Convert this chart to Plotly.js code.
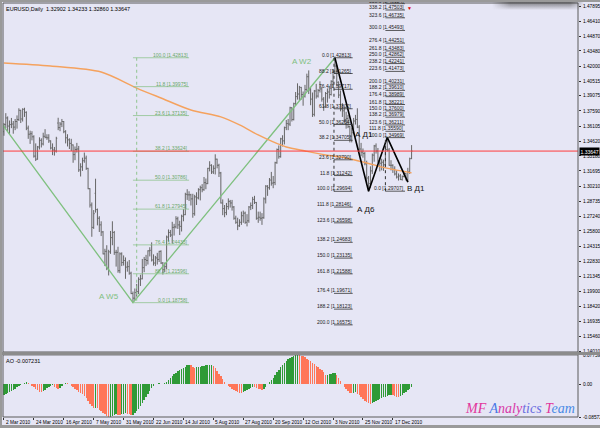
<!DOCTYPE html>
<html><head><meta charset="utf-8">
<script src="https://cdn.plot.ly/plotly-3.0.1.min.js"></script>
<style>
html,body{margin:0;padding:0;background:#e6e6f5;}
#wrap{position:relative;width:600px;height:428px;overflow:hidden;}
#chart{width:600px;height:428px;}
#frame{position:absolute;left:0;top:0;width:600px;height:428px;box-sizing:border-box;border-left:2px solid #9a9a9a;border-top:2px solid #9a9a9a;border-bottom:3px solid #9a9a9a;pointer-events:none;}
#shade{position:absolute;left:492px;top:0;width:92px;height:10px;pointer-events:none;
 background:linear-gradient(to bottom, rgba(70,70,70,0.85), rgba(70,70,70,0.0));
 -webkit-mask-image:linear-gradient(to right, transparent, #000 20%, #000 85%, transparent);
 mask-image:linear-gradient(to right, transparent, #000 20%, #000 85%, transparent);}
</style></head><body>
<div id="wrap"><div id="chart"></div><div id="shade"></div><div id="frame"></div></div>
<script>
// ---------- DATA ----------
const chartTitle = 'EURUSD,Daily  1.32902 1.34233 1.32860 1.33647';
const aoTitle = 'AO -0.007231';
const dateLabels = ['2 Mar 2010','24 Mar 2010','16 Apr 2010','7 May 2010','31 May 2010','22 Jun 2010','14 Jul 2010','5 Aug 2010','27 Aug 2010','20 Sep 2010','12 Oct 2010','3 Nov 2010','25 Nov 2010','17 Dec 2010'];
const barsPerLabel = 16;

const open = [
1.3555,1.3625,1.3690,1.3610,1.3625,1.3630,1.3600,1.3655,1.3675,1.3765,
1.3680,1.3775,1.3745,1.3590,1.3530,1.3535,1.3505,1.3315,1.3285,1.3405,
1.3470,1.3435,1.3510,1.3500,1.3495,1.3465,1.3395,1.3375,1.3365,1.3640,
1.3595,1.3630,1.3655,1.3555,1.3495,1.3475,1.3440,1.3425,1.3330,1.3380,
1.3385,1.3180,1.3210,1.3270,1.3295,1.3195,1.2995,1.2835,1.2615,1.2950,
1.2790,1.2705,1.2640,1.2570,1.2355,1.2380,1.2210,1.2375,1.2515,1.2565,
1.2370,1.2370,1.2190,1.2355,1.2270,1.2290,1.2225,1.2230,1.2165,1.1965,
1.1920,1.1975,1.1985,1.2105,1.2110,1.2220,1.2300,1.2290,1.2385,1.2440,
1.2295,1.2265,1.2315,1.2300,1.2380,1.2265,1.2200,1.2230,1.2520,1.2565,
1.2540,1.2615,1.2620,1.2700,1.2640,1.2625,1.2725,1.2740,1.2940,1.2935,
1.2935,1.2895,1.2750,1.2915,1.2905,1.2985,1.3005,1.2985,1.3055,1.3045,
1.3195,1.3225,1.3160,1.3195,1.3285,1.3225,1.3150,1.2855,1.2800,1.2760,
1.2820,1.2870,1.2855,1.2815,1.2705,1.2665,1.2630,1.2665,1.2730,1.2755,
1.2665,1.2680,1.2815,1.2830,1.2890,1.2860,1.2705,1.2715,1.2705,1.2710,
1.2895,1.3020,1.3005,1.3080,1.3050,1.3055,1.3250,1.3380,1.3310,1.3485,
1.3465,1.3595,1.3635,1.3630,1.3790,1.3675,1.3830,1.3900,1.3925,1.3990,
1.3920,1.3905,1.3970,1.4095,1.3965,1.3875,1.3725,1.3955,1.3905,1.3960,
1.3975,1.3875,1.3800,1.3930,1.3945,1.3920,1.4050,1.4145,1.4200,1.4040,
1.3915,1.3780,1.3760,1.3675,1.3685,1.3605,1.3510,1.3545,1.3660,1.3675,
1.3600,1.3385,1.3355,1.3340,1.3240,1.3100,1.3045,1.3170,1.3325,1.3415,
1.3365,1.3270,1.3245,1.3255,1.3230,1.3380,1.3375,1.3225,1.3225,1.3185,
1.3140,1.3110,1.3120,1.3085,1.3115,1.3145,1.3080,1.3160,1.32902];
const high = [
1.3640,1.3737,1.3705,1.3665,1.3690,1.3660,1.3680,1.3715,1.3785,1.3770,
1.3785,1.3790,1.3755,1.3615,1.3565,1.3560,1.3520,1.3440,1.3415,1.3500,
1.3490,1.3545,1.3580,1.3530,1.3530,1.3470,1.3440,1.3405,1.3505,1.3692,
1.3650,1.3680,1.3660,1.3570,1.3530,1.3490,1.3485,1.3430,1.3410,1.3445,
1.3415,1.3245,1.3300,1.3350,1.3320,1.3200,1.3000,1.2860,1.2785,1.3093,
1.2800,1.2725,1.2675,1.2580,1.2405,1.2440,1.2395,1.2580,1.2675,1.2580,
1.2395,1.2425,1.2370,1.2370,1.2340,1.2320,1.2280,1.2295,1.2180,1.1985,
1.2015,1.2060,1.2125,1.2150,1.2305,1.2325,1.2345,1.2390,1.2420,1.2468,
1.2350,1.2335,1.2365,1.2385,1.2390,1.2275,1.2270,1.2535,1.2595,1.2590,
1.2670,1.2650,1.2725,1.2720,1.2680,1.2740,1.2795,1.2955,1.2990,1.2970,
1.2945,1.2945,1.2935,1.2960,1.3000,1.3025,1.3040,1.3110,1.3095,1.3200,
1.3265,1.3235,1.3225,1.3333,1.3290,1.3240,1.3160,1.2890,1.2835,1.2855,
1.2900,1.2885,1.2885,1.2825,1.2730,1.2710,1.2695,1.2770,1.2780,1.2770,
1.2745,1.2825,1.2860,1.2915,1.2925,1.2865,1.2770,1.2770,1.2755,1.2910,
1.3030,1.3030,1.3100,1.3160,1.3120,1.3260,1.3390,1.3420,1.3495,1.3520,
1.3605,1.3670,1.3680,1.3800,1.3795,1.3840,1.3945,1.4030,1.4005,1.3995,
1.3950,1.4015,1.4125,1.4157,1.3990,1.3940,1.3965,1.4025,1.3975,1.4050,
1.3995,1.3895,1.3945,1.3980,1.4005,1.4060,1.4170,1.4282,1.4210,1.4050,
1.3960,1.3835,1.3800,1.3750,1.3720,1.3615,1.3595,1.3690,1.3720,1.3785,
1.3620,1.3445,1.3390,1.3355,1.3270,1.3120,1.3215,1.3340,1.3425,1.3440,
1.3395,1.3300,1.3290,1.3280,1.3420,1.3500,1.3395,1.3275,1.3235,1.3215,
1.3175,1.3145,1.3140,1.3125,1.3165,1.3150,1.3200,1.3300,1.34233];
const low = [
1.3515,1.3590,1.3560,1.3530,1.3590,1.3535,1.3570,1.3585,1.3660,1.3640,
1.3655,1.3700,1.3570,1.3485,1.3435,1.3470,1.3300,1.3267,1.3280,1.3380,
1.3400,1.3420,1.3490,1.3475,1.3445,1.3380,1.3325,1.3320,1.3350,1.3570,
1.3560,1.3600,1.3540,1.3440,1.3410,1.3385,1.3365,1.3250,1.3275,1.3350,
1.3160,1.3115,1.3170,1.3250,1.3180,1.2990,1.2810,1.2523,1.2600,1.2760,
1.2635,1.2570,1.2530,1.2350,1.2235,1.2195,1.2143,1.2355,1.2440,1.2345,
1.2230,1.2170,1.2165,1.2235,1.2240,1.2110,1.2180,1.2150,1.1960,1.1876,
1.1900,1.1935,1.1960,1.2040,1.2105,1.2175,1.2235,1.2250,1.2330,1.2280,
1.2240,1.2235,1.2250,1.2275,1.2255,1.2152,1.2175,1.2205,1.2475,1.2520,
1.2460,1.2535,1.2605,1.2600,1.2540,1.2575,1.2675,1.2735,1.2885,1.2875,
1.2830,1.2710,1.2730,1.2835,1.2890,1.2880,1.2960,1.2975,1.2990,1.3040,
1.3165,1.3140,1.3140,1.3135,1.3195,1.3110,1.2850,1.2735,1.2715,1.2735,
1.2790,1.2810,1.2780,1.2690,1.2650,1.2588,1.2620,1.2640,1.2660,1.2650,
1.2625,1.2660,1.2785,1.2795,1.2845,1.2690,1.2660,1.2680,1.2640,1.2700,
1.2850,1.2925,1.2985,1.3025,1.3000,1.3030,1.3240,1.3290,1.3300,1.3410,
1.3430,1.3570,1.3570,1.3610,1.3655,1.3665,1.3810,1.3870,1.3860,1.3870,
1.3810,1.3890,1.3955,1.3925,1.3815,1.3700,1.3705,1.3880,1.3890,1.3940,
1.3850,1.3760,1.3790,1.3840,1.3880,1.3910,1.3990,1.4120,1.4000,1.3885,
1.3755,1.3700,1.3640,1.3585,1.3590,1.3450,1.3450,1.3530,1.3625,1.3590,
1.3355,1.3315,1.3300,1.3225,1.3050,1.2969,1.3005,1.3140,1.3260,1.3340,
1.3250,1.3165,1.3175,1.3170,1.3215,1.3360,1.3220,1.3175,1.3150,1.3125,
1.3095,1.3075,1.3080,1.3075,1.3105,1.3075,1.3060,1.3140,1.32860];
const close = [
1.3625,1.3690,1.3610,1.3625,1.3630,1.3600,1.3655,1.3675,1.3765,1.3680,
1.3775,1.3745,1.3590,1.3530,1.3535,1.3505,1.3315,1.3285,1.3405,1.3470,
1.3435,1.3510,1.3500,1.3495,1.3465,1.3395,1.3375,1.3365,1.3490,1.3595,
1.3630,1.3655,1.3555,1.3495,1.3475,1.3440,1.3425,1.3330,1.3380,1.3385,
1.3180,1.3210,1.3270,1.3295,1.3195,1.2995,1.2835,1.2615,1.2750,1.2790,
1.2705,1.2640,1.2570,1.2355,1.2380,1.2210,1.2375,1.2515,1.2565,1.2370,
1.2370,1.2190,1.2355,1.2270,1.2290,1.2225,1.2230,1.2165,1.1965,1.1920,
1.1975,1.1985,1.2105,1.2110,1.2220,1.2300,1.2290,1.2385,1.2390,1.2295,
1.2265,1.2315,1.2300,1.2380,1.2265,1.2200,1.2230,1.2520,1.2565,1.2540,
1.2615,1.2620,1.2700,1.2640,1.2625,1.2725,1.2740,1.2940,1.2935,1.2935,
1.2895,1.2750,1.2915,1.2905,1.2985,1.3005,1.2985,1.3055,1.3045,1.3195,
1.3225,1.3160,1.3195,1.3285,1.3225,1.3150,1.2855,1.2800,1.2760,1.2820,
1.2870,1.2855,1.2815,1.2705,1.2665,1.2630,1.2665,1.2730,1.2755,1.2665,
1.2680,1.2815,1.2830,1.2890,1.2860,1.2705,1.2715,1.2705,1.2710,1.2895,
1.3020,1.3005,1.3080,1.3050,1.3055,1.3250,1.3380,1.3310,1.3485,1.3465,
1.3595,1.3635,1.3630,1.3790,1.3675,1.3830,1.3900,1.3925,1.3990,1.3920,
1.3905,1.3970,1.4095,1.3965,1.3875,1.3725,1.3955,1.3905,1.3960,1.3975,
1.3875,1.3800,1.3930,1.3945,1.3920,1.4050,1.4145,1.4200,1.4040,1.3915,
1.3780,1.3760,1.3675,1.3685,1.3605,1.3510,1.3545,1.3660,1.3675,1.3600,
1.3385,1.3355,1.3340,1.3240,1.3100,1.3045,1.3170,1.3325,1.3415,1.3365,
1.3270,1.3245,1.3255,1.3230,1.3380,1.3375,1.3225,1.3225,1.3185,1.3140,
1.3110,1.3120,1.3085,1.3115,1.3145,1.3080,1.3160,1.3290,1.33647];

// Awesome Oscillator histogram
const aoValues = [
-0.027,-0.025,-0.022,-0.020,-0.017,-0.014,-0.011,-0.008,-0.005,-0.002,
0.002,0.005,0.006,0.004,0.001,-0.003,-0.007,-0.011,-0.015,-0.019,
-0.021,-0.018,-0.014,-0.010,-0.007,-0.004,-0.002,-0.006,-0.010,-0.013,
-0.009,-0.004,0.001,0.004,0.003,0.000,-0.004,-0.008,-0.012,-0.016,
-0.020,-0.023,-0.026,-0.031,-0.037,-0.044,-0.052,-0.058,-0.063,-0.061,
-0.062,-0.066,-0.070,-0.075,-0.079,-0.083,-0.0857,-0.085,-0.082,-0.080,
-0.079,-0.080,-0.081,-0.079,-0.077,-0.076,-0.077,-0.079,-0.081,-0.080,
-0.076,-0.071,-0.065,-0.058,-0.050,-0.042,-0.034,-0.026,-0.018,-0.010,
-0.004,0.000,0.002,0.003,0.002,0.001,0.003,0.007,0.012,0.017,
0.022,0.027,0.031,0.035,0.038,0.041,0.044,0.047,0.050,0.052,
0.050,0.047,0.044,0.045,0.046,0.047,0.048,0.049,0.050,0.0505,
0.051,0.052,0.048,0.042,0.035,0.028,0.021,0.014,0.007,0.001,
-0.004,-0.008,-0.012,-0.015,-0.018,-0.020,-0.022,-0.023,-0.021,-0.018,
-0.015,-0.012,-0.009,-0.007,-0.008,-0.010,-0.012,-0.013,-0.014,-0.011,
-0.006,0.000,0.006,0.012,0.018,0.025,0.032,0.039,0.045,0.051,
0.057,0.062,0.066,0.070,0.073,0.075,0.077,0.0776,0.0770,0.0755,
0.0735,0.071,0.068,0.065,0.061,0.057,0.053,0.049,0.045,0.041,
0.037,0.033,0.025,0.026,0.027,0.028,0.029,0.030,0.024,0.016,
0.008,0.000,-0.007,-0.013,-0.018,-0.022,-0.023,-0.022,-0.021,-0.024,
-0.029,-0.034,-0.039,-0.043,-0.047,-0.050,-0.051,-0.049,-0.046,-0.043,
-0.040,-0.038,-0.036,-0.034,-0.032,-0.030,-0.028,-0.027,-0.029,-0.031,
-0.033,-0.034,-0.031,-0.027,-0.023,-0.019,-0.015,-0.011,-0.00723];

// Moving average line (bar index, price)
const maBars = [0,25,52,71,84,100,116,126,136,144,151,161,172,183,194,204,218];
const maPrices = [1.4230,1.4200,1.4141,1.3984,1.3886,1.3768,1.3700,1.3621,1.3523,1.3454,1.3405,1.3366,1.3326,1.3297,1.3248,1.3199,1.3150];

// Wave line (green) and zigzag (black)
const waveBars = [-1,69,177];
const wavePrices = [1.3630,1.18758,1.42813];
const zigBars = [177,195,205,216];
const zigPrices = [1.42813,1.29694,1.34985,1.30600];

const lastPrice = 1.33647;

// Fibonacci 1 (green)
const fib1Bars = [69,99,71]; // line start, line end, dotted anchor
const fib1Levels = ['100.0','11.8','23.6','38.2','50.0','61.8','76.4','88.2','0.0'];
const fib1Prices = [1.42813,1.39975,1.37135,1.33624,1.30786,1.27945,1.24433,1.21596,1.18758];
// Fibonacci 2 (black)
const fib2Bars = [176.5,186.5,176.5];
const fib2Levels = ['0.0','88.2','76.4','61.8','50.0','38.2','23.6','11.8','100.0','111.8','123.6','138.2','150.0','161.8','176.4','188.2','200.0'];
const fib2Prices = [1.42813,1.41265,1.39717,1.37802,1.36254,1.34705,1.32790,1.31242,1.29694,1.28146,1.26598,1.24683,1.23135,1.21588,1.19671,1.18123,1.16575];
// Fibonacci 3 (black, expansion)
const fib3Bars = [204,214.5,204];
const fib3Levels = ['0.0','100.0','111.8','123.6','138.2','150.0','161.8','176.4','188.2','200.0','223.6','238.2','250.0','261.8','276.4','300.0','323.6','338.2','350.0'];
const fib3Prices = [1.29707,1.34969,1.35590,1.36211,1.36979,1.37600,1.38221,1.38989,1.39610,1.40231,1.41473,1.42241,1.42862,1.43483,1.44251,1.45493,1.46735,1.47503,1.48124];

// Wave labels
const waveLabels = ['A W5','A W2','А Д1','А Д6','В Д1'];
const waveLabelBars = [56,159.5,192.8,193.5,220.5];
const waveLabelPrices = [1.1932,1.4249,1.3523,1.2786,1.3002];

const priceTicks = [1.47895,1.46410,1.44870,1.43480,1.42000,1.40515,1.39075,1.37590,1.36105,1.34620,1.33180,1.31695,1.30210,1.28735,1.27240,1.25800,1.24315,1.22830,1.21345,1.19900,1.18420,1.16935,1.15460,1.14010];
const aoTicks = [0.077595,0,-0.08572];
const aoTickText = ['0.077595','0.00','-0.08572'];

// ---------- BUILD ----------
const bars = close.map((_, i) => i);
const bg = '#e6e6f5';
const greenW = '#7fc07f';
const FONT = 'Liberation Sans, Arial, sans-serif';
const aoColors = aoValues.map((v, i) => (i === 0 || v > aoValues[i-1]) ? '#2f9a36' : '#ff7658');
const dateTickBars = dateLabels.map((_, i) => i * barsPerLabel);

const traces = [
  {type:'scatter', mode:'lines', x:waveBars, y:wavePrices, line:{color:greenW, width:1.3}, hoverinfo:'skip', xaxis:'x', yaxis:'y'},
  {type:'ohlc', x:bars, open:open, high:high, low:low, close:close, xaxis:'x', yaxis:'y',
   increasing:{line:{color:'#666', width:1}}, decreasing:{line:{color:'#666', width:1}}, tickwidth:0.5, hoverinfo:'skip'},
  {type:'scatter', mode:'lines', x:maBars, y:maPrices, line:{color:'#f5a25e', width:1.4, shape:'spline', smoothing:0.8}, hoverinfo:'skip', xaxis:'x', yaxis:'y'},
  {type:'scatter', mode:'lines', x:zigBars, y:zigPrices, line:{color:'#000', width:1.6}, hoverinfo:'skip', xaxis:'x', yaxis:'y'},
  {type:'bar', x:bars, y:aoValues, marker:{color:aoColors, line:{width:0}}, width:0.75, xaxis:'x', yaxis:'y2', hoverinfo:'skip'}
];

const shapes = [];
const annotations = [];
function addFib(fb, levels, prices, lineColor, textColor, anchorTo) {
  levels.forEach((lv, i) => {
    shapes.push({type:'line', xref:'x', yref:'y', x0:fb[0], x1:fb[1], y0:prices[i], y1:prices[i], line:{color:lineColor, width:0.8}});
    annotations.push({xref:'x', yref:'y', x:fb[1], y:prices[i], xanchor:'right', yanchor:'bottom', text:lv + ' [' + prices[i].toFixed(5) + ']',
      showarrow:false, font:{size:5, color:textColor, family:FONT}, borderpad:0, yshift:-1});
  });
  shapes.push({type:'line', xref:'x', yref:'y', x0:fb[2], x1:fb[2], y0:prices[0], y1:prices[anchorTo], line:{color:lineColor, width:1, dash:'dot'}});
}
addFib(fib1Bars, fib1Levels, fib1Prices, '#8fc48f', '#6aa86a', fib1Prices.length - 1);
addFib(fib2Bars, fib2Levels, fib2Prices, '#333', '#222', 8);
addFib(fib3Bars, fib3Levels, fib3Prices, '#333', '#222', 1);

// current price line
shapes.push({type:'line', xref:'paper', yref:'y', x0:0, x1:1, y0:lastPrice, y1:lastPrice, line:{color:'#ff3b3b', width:1}});
// panel frames
shapes.push({type:'rect', xref:'paper', yref:'paper', x0:0, x1:1, y0:0.157, y1:1, line:{color:'#5a5a5a', width:1}});
shapes.push({type:'rect', xref:'paper', yref:'paper', x0:0, x1:1, y0:0, y1:0.150, line:{color:'#5a5a5a', width:1}});
shapes.push({type:'rect', xref:'paper', yref:'paper', x0:-0.01, x1:1.04, y0:0.150, y1:0.157, fillcolor:'#8c8c8c', line:{width:0}});

// date labels, to the right of each tick mark
dateLabels.forEach((d, i) => {
  annotations.push({xref:'x', yref:'paper', x:dateTickBars[i], y:0, xanchor:'left', yanchor:'top', xshift:1, yshift:-1.5,
    text:d, showarrow:false, borderpad:0, font:{size:4.8, color:'#000', family:FONT}});
});

waveLabels.forEach((t, i) => {
  annotations.push({xref:'x', yref:'y', x:waveLabelBars[i], y:waveLabelPrices[i], text:t, showarrow:false,
    font:{size:8, color: i < 2 ? greenW : '#111', family:FONT}});
});
annotations.push({xref:'paper', yref:'paper', x:0.002, y:1, xanchor:'left', yanchor:'top', yshift:-1, text:chartTitle, showarrow:false,
  font:{size:5.5, color:'#000', family:FONT}});
annotations.push({xref:'paper', yref:'paper', x:0.002, y:0.150, xanchor:'left', yanchor:'top', yshift:-1, text:aoTitle, showarrow:false,
  font:{size:5.5, color:'#000', family:FONT}});
annotations.push({xref:'paper', yref:'y', x:1, y:lastPrice, xanchor:'left', yanchor:'middle', xshift:1, text:lastPrice.toFixed(5), showarrow:false,
  bgcolor:'#000', borderpad:0.5, font:{size:5, color:'#fff', family:FONT}});
annotations.push({xref:'x', yref:'paper', x:217, y:1, yanchor:'top', text:'▼', showarrow:false, font:{size:5, color:'#e00000'}});
annotations.push({xref:'paper', yref:'paper', x:0.998, y:0.02, xanchor:'right', yanchor:'middle', showarrow:false,
  text:'<i><span style="color:#e2359c">MF </span><span style="color:#4a78e6">A</span><span style="color:#d83aa8">naly</span><span style="color:#6a6ee0">tics </span><span style="color:#e2359c">T</span><span style="color:#4a8ae6">eam</span></i>',
  font:{size:14, family:'Liberation Serif, Times New Roman, serif'}});

const layout = {
  width:600, height:428,
  margin:{l:3, r:22, t:3, b:11, pad:0},
  paper_bgcolor:bg, plot_bgcolor:bg, showlegend:false, bargap:0,
  font:{family:FONT, size:5, color:'#000'},
  xaxis:{range:[-0.5, 307], anchor:'y2', showgrid:false, zeroline:false,
    tickvals:dateTickBars, ticktext:dateLabels, showticklabels:false,
    ticks:'outside', ticklen:2, tickcolor:'#333', showline:false, rangeslider:{visible:false}, fixedrange:true},
  yaxis:{domain:[0.157, 1], range:[1.13912, 1.48190], side:'right', showgrid:false, zeroline:false,
    tickvals:priceTicks, ticktext:priceTicks.map(v => v.toFixed(5)), ticks:'outside', ticklen:2, tickcolor:'#333',
    tickfont:{size:4.8, family:FONT}, ticklabelstandoff:1, showline:false, fixedrange:true},
  yaxis2:{domain:[0, 0.150], range:[-0.08572, 0.077595], side:'right', showgrid:false, zeroline:false,
    tickvals:aoTicks, ticktext:aoTickText, ticks:'outside', ticklen:2, tickcolor:'#333', tickfont:{size:4.8, family:FONT},
    ticklabelstandoff:1, showline:false, fixedrange:true},
  shapes:shapes, annotations:annotations
};
Plotly.newPlot('chart', traces, layout, {staticPlot:true, displayModeBar:false});
</script></body></html>
